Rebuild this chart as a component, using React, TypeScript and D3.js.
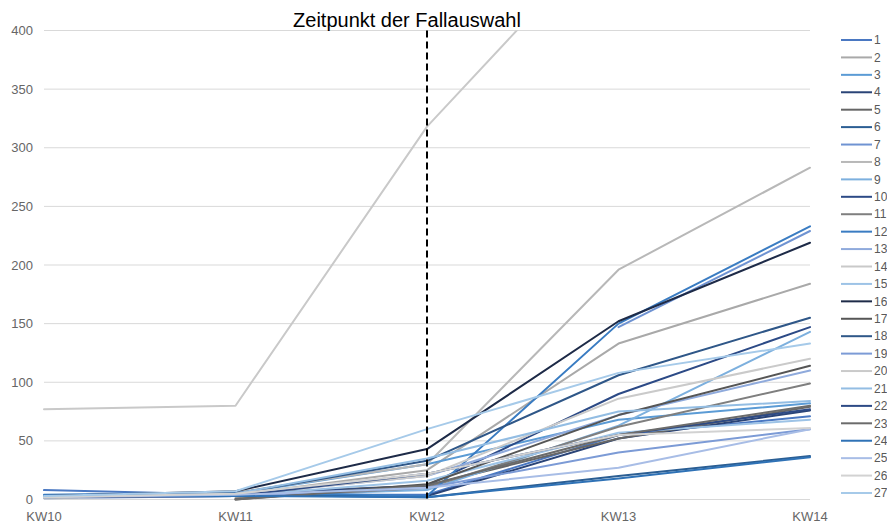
import React from "react";
import * as d3 from "d3";

const weeks = ["KW10", "KW11", "KW12", "KW13", "KW14"];
const yTicks = [0, 50, 100, 150, 200, 250, 300, 350, 400];
const seriesNames = Array.from({ length: 27 }, (_, i) => String(i + 1));
const seriesColors = [
  "#4a78c2", "#a9a9a9", "#5b9bd5", "#2a4477", "#666666", "#2b5e93", "#6f93d2", "#b8b8b8", "#7db0de",
  "#2c4a86", "#7f7f7f", "#3a7cc2", "#8faadc", "#c9c9c9", "#9dc3e6", "#1e2b48", "#565656", "#2f5788",
  "#7c9bd6", "#cacaca", "#93bde3", "#2d4a85", "#6b6b6b", "#2f72b6", "#a8bde6", "#d2d2d2", "#a6cae9",
];
const s1 = [8, 4, 4, 55, 71];
const s2 = [2, 4, 25, 133, 184];
const s3 = [3, 5, 30, 68, 82];
const s4 = [2, 3, 3, 52, 76];
const s5 = [2, 5, 12, 52, 79];
const s6 = [3, 4, 2, 20, 37];
const s7 = [null, null, null, 147, 229];
const s8 = [3, 6, 30, 196, 283];
const s9 = [2, 3, 8, 63, 143];
const s10 = [2, 4, 12, 90, 147];
const s11 = [null, 1, 10, 62, 99];
const s12 = [4, 6, 3, 150, 233];
const s13 = [2, 4, 20, 72, 110];
const s14 = [77, 80, 318, 493, 560];
const s15 = [2, 3, 16, 57, 68];
const s16 = [3, 7, 43, 152, 219];
const s17 = [null, 0, 13, 72, 114];
const s18 = [2, 5, 33, 106, 155];
const s19 = [1, 3, 10, 40, 60];
const s20 = [1, 4, 20, 86, 120];
const s21 = [2, 5, 35, 75, 84];
const s22 = [2, 3, 22, 55, 77];
const s23 = [null, 0, 12, 55, 80];
const s24 = [3, 3, 2, 18, 36];
const s25 = [2, 4, 10, 27, 60];
const s26 = [2, 5, 22, 55, 61];
const s27 = [3, 7, 60, 108, 133];
const seriesValues = [s1, s2, s3, s4, s5, s6, s7, s8, s9, s10, s11, s12, s13, s14, s15, s16, s17, s18, s19, s20, s21, s22, s23, s24, s25, s26, s27];
const markerWeek = "KW12";
const markerLabel = "Zeitpunkt der Fallauswahl";

export default function App() {
  const W = 887, H = 523;
  const x = d3.scalePoint<string>().domain(weeks).range([44, 810]);
  const y = d3.scaleLinear().domain([0, 400]).range([499.5, 30.5]);
  const line = d3
    .line<number | null>()
    .defined((d) => d !== null)
    .x((_, i) => x(weeks[i]) as number)
    .y((d) => y(d as number));
  const legendY = d3.scaleLinear().domain([0, 26]).range([40, 493]);
  const font = "Arial, 'Liberation Sans', sans-serif";
  return (
    <svg width={W} height={H} style={{ position: "absolute", left: 0, top: 0 }} fontFamily={font}>
      <defs>
        <clipPath id="plot">
          <rect x={40} y={y(400)} width={780} height={y(0) - y(400) + 4} />
        </clipPath>
      </defs>
      {yTicks.map((t) => (
        <g key={t}>
          <line x1={44} x2={810} y1={y(t)} y2={y(t)} stroke="#d9d9d9" strokeWidth={1} />
          <text x={33} y={y(t)} dy="0.35em" textAnchor="end" fontSize={13} fill="#666">
            {t}
          </text>
        </g>
      ))}
      {weeks.map((w) => (
        <text key={w} x={x(w)} y={521} textAnchor="middle" fontSize={13} fill="#666">
          {w}
        </text>
      ))}
      <g clipPath="url(#plot)">
        {seriesValues.map((vals, i) => (
          <path
            key={i}
            d={line(vals) || ""}
            fill="none"
            stroke={seriesColors[i]}
            strokeWidth={2}
            strokeLinejoin="round"
            strokeLinecap="round"
          />
        ))}
      </g>
      <line
        x1={x(markerWeek)}
        x2={x(markerWeek)}
        y1={y(400)}
        y2={y(0) - 1}
        stroke="#000"
        strokeWidth={2}
        strokeDasharray="7,4"
      />
      <text x={407} y={27} textAnchor="middle" fontSize={20} fill="#000">
        {markerLabel}
      </text>
      {seriesNames.map((n, i) => (
        <g key={n}>
          <line x1={841} x2={872} y1={legendY(i)} y2={legendY(i)} stroke={seriesColors[i]} strokeWidth={2} />
          <text x={874} y={legendY(i)} dy="0.35em" fontSize={12} fill="#595959">
            {n}
          </text>
        </g>
      ))}
    </svg>
  );
}
